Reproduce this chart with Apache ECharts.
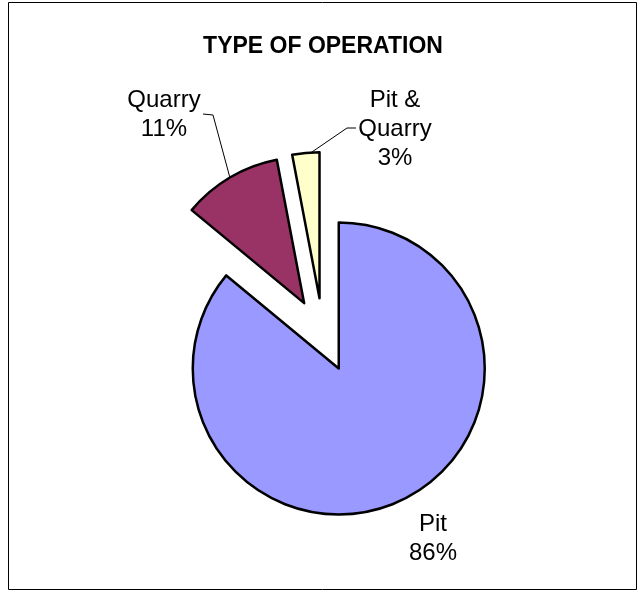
<!DOCTYPE html>
<html>
<head>
<meta charset="utf-8">
<script src="https://cdn.jsdelivr.net/npm/echarts@6/dist/echarts.min.js"></script>
<style>html,body{margin:0;padding:0;background:#fff;}#c{width:642px;height:592px;}</style>
</head>
<body>
<div id="c"></div>
<script>
const titleText = 'TYPE OF OPERATION';
const categories = ['Pit', 'Quarry', 'Pit &\nQuarry'];
const values = [86, 11, 3];
const colors = ['#9999FF', '#993366', '#FFFFCC'];

// label placement (styling/layout only)
const labelPlaces = [
  { x: 433, y: 538.5, line: null },
  { x: 164, y: 115, line: [[203, 114], [213, 115], [230, 178]] },
  { x: 395, y: 129, line: [[356, 128], [347, 128], [309, 154]] }
];

const total = values.reduce((a, b) => a + b, 0);
const FONT = 'Liberation Sans, Arial, sans-serif';

const graphics = [{
  type: 'rect',
  shape: { x: 8.5, y: 2.5, width: 628, height: 587 },
  style: { fill: 'none', stroke: '#000', lineWidth: 1 },
  silent: true
}, {
  type: 'text',
  x: 323, y: 47,
  style: {
    text: titleText, fill: '#000', font: 'bold 23px ' + FONT,
    textAlign: 'center', textVerticalAlign: 'middle', align: 'center', verticalAlign: 'middle'
  },
  silent: true
}];

categories.forEach((c, i) => {
  const p = labelPlaces[i];
  graphics.push({
    type: 'text',
    x: p.x, y: p.y,
    style: {
      text: c + '\n' + Math.round(values[i] / total * 100) + '%',
      fill: '#000', font: '24px ' + FONT, lineHeight: 29,
      textAlign: 'center', textVerticalAlign: 'middle', align: 'center', verticalAlign: 'middle'
    },
    silent: true
  });
  if (p.line) {
    graphics.push({
      type: 'polyline',
      shape: { points: p.line },
      style: { stroke: '#000', lineWidth: 1, fill: null },
      silent: true
    });
  }
});

const chart = echarts.init(document.getElementById('c'), null, { renderer: 'canvas' });
chart.setOption({
  animation: false,
  backgroundColor: '#fff',
  graphic: graphics,
  series: [{
    type: 'pie',
    center: [323, 335],
    radius: [0, 146],
    startAngle: 90,
    clockwise: true,
    selectedMode: 'multiple',
    selectedOffset: 37,
    avoidLabelOverlap: false,
    emphasis: { disabled: true },
    itemStyle: { borderColor: '#000', borderWidth: 2.5 },
    label: { show: false },
    labelLine: { show: false },
    data: categories.map((c, i) => ({
      name: c,
      value: values[i],
      selected: true,
      itemStyle: { color: colors[i] },
      select: { itemStyle: { color: colors[i], borderColor: '#000', borderWidth: 2.5 } }
    }))
  }]
});
</script>
</body>
</html>
